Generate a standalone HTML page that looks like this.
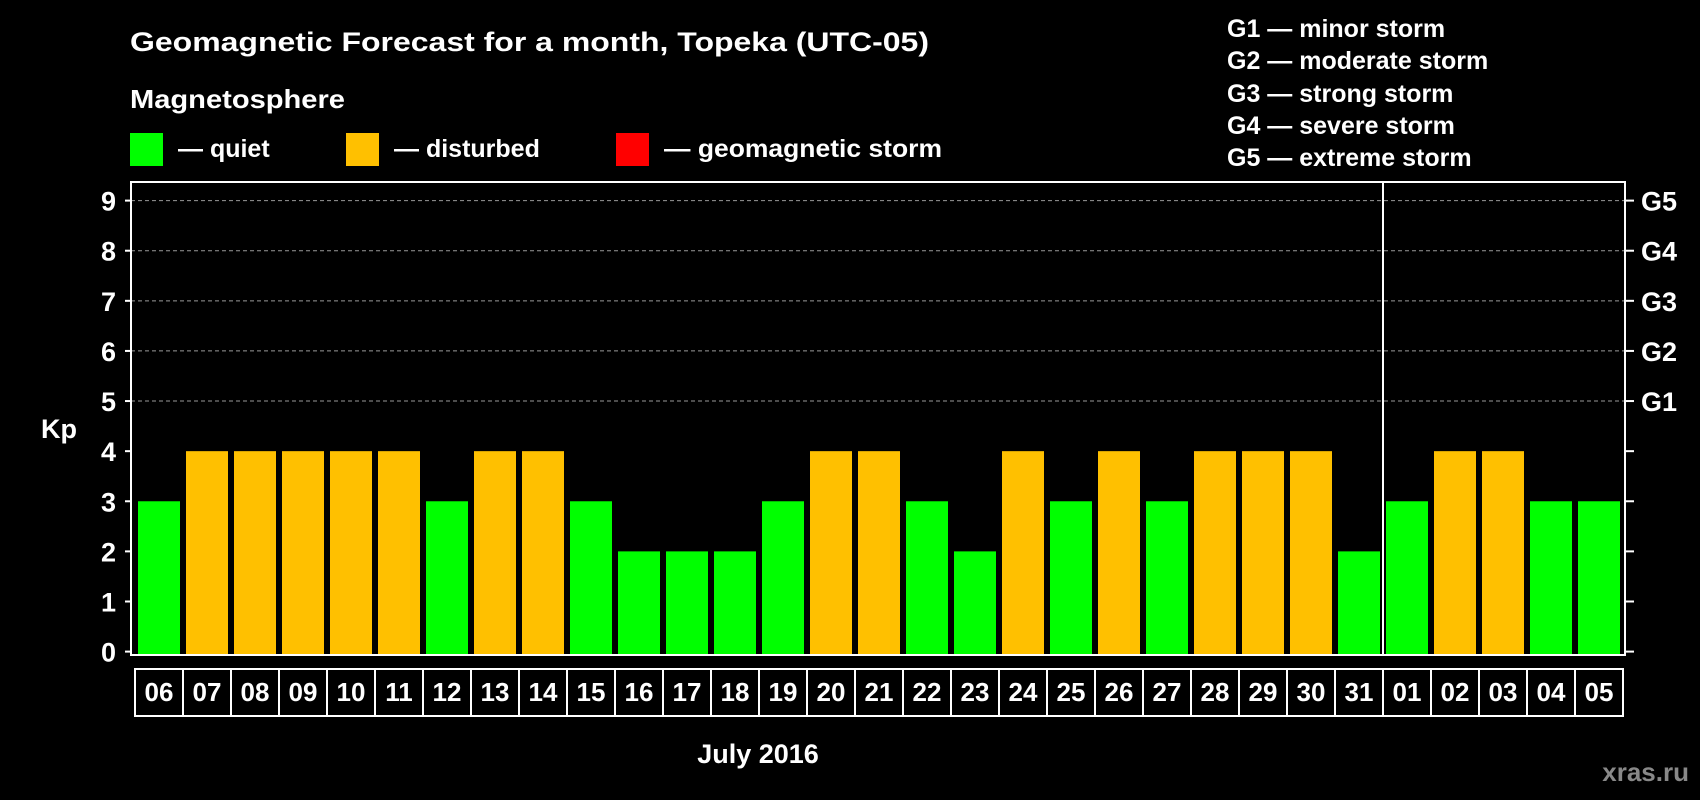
<!DOCTYPE html>
<html><head><meta charset="utf-8"><style>
html,body{margin:0;padding:0;background:#000;width:1700px;height:800px;overflow:hidden}
svg{display:block;font-family:"Liberation Sans",Arial,sans-serif;font-weight:bold}
</style></head><body>
<svg id="chart" width="1700" height="800" viewBox="0 0 1700 800" xmlns="http://www.w3.org/2000/svg">
<text x="130" y="51" fill="#fff" font-size="27" textLength="799" lengthAdjust="spacingAndGlyphs">Geomagnetic Forecast for a month, Topeka (UTC-05)</text>
<text x="130" y="108" fill="#fff" font-size="26" textLength="215" lengthAdjust="spacingAndGlyphs">Magnetosphere</text>
<g><rect x="130" y="133" width="33" height="33" fill="#00ff00"/><text x="178" y="157" fill="#fff" font-size="25">— quiet</text></g>
<g><rect x="346" y="133" width="33" height="33" fill="#ffc000"/><text x="394" y="157" fill="#fff" font-size="25">— disturbed</text></g>
<g><rect x="616" y="133" width="33" height="33" fill="#ff0000"/><text x="664" y="157" fill="#fff" font-size="25" textLength="278" lengthAdjust="spacingAndGlyphs">— geomagnetic storm</text></g>
<g fill="#fff" font-size="25">
<text x="1227" y="37">G1 — minor storm</text>
<text x="1227" y="69">G2 — moderate storm</text>
<text x="1227" y="102">G3 — strong storm</text>
<text x="1227" y="134">G4 — severe storm</text>
<text x="1227" y="166">G5 — extreme storm</text>
</g>
<text x="41" y="438" fill="#fff" font-size="27">Kp</text>
<text x="758" y="763" fill="#fff" font-size="27" text-anchor="middle">July 2016</text>
<text x="1689" y="781" fill="#888" font-size="26" text-anchor="end">xras.ru</text>
<g id="grid"></g><g id="bars"></g><g id="axes"></g>
</svg>
<script>
const days=["06","07","08","09","10","11","12","13","14","15","16","17","18","19","20","21","22","23","24","25","26","27","28","29","30","31","01","02","03","04","05"];
const kp=[3,4,4,4,4,4,3,4,4,3,2,2,2,3,4,4,3,2,4,3,4,3,4,4,4,2,3,4,4,3,3];
const yTicks=[0,1,2,3,4,5,6,7,8,9];
const gLabels=["G1","G2","G3","G4","G5"];
const gLevels=[5,6,7,8,9];
const monthBreak=26;
const NS="http://www.w3.org/2000/svg";
const L=131,R=1625,T=182,B=655;
const y=v=>651.6-v*(651.6-200.6)/9;
const x=i=>138+48*i;
function mk(t,a,p){const e=document.createElementNS(NS,t);for(const k in a)e.setAttribute(k,a[k]);p.appendChild(e);return e;}
const grid=document.getElementById('grid'),bars=document.getElementById('bars'),axes=document.getElementById('axes');
gLevels.forEach(v=>{const l=mk('line',{x1:L,x2:R,y1:y(v),y2:y(v),stroke:'#999','stroke-dasharray':'4,3','stroke-width':1},grid);

});
kp.forEach((v,i)=>{const c=v>=5?'#ff0000':(v>=4?'#ffc000':'#00ff00');
const r=mk('rect',{x:x(i),y:y(v),width:42,height:B-y(v),fill:c},bars);

});
const f=mk('rect',{x:L,y:T,width:R-L,height:B-T,fill:'none',stroke:'#fff','stroke-width':2},axes);


const sx=x(monthBreak)-3;
const sep=mk('line',{x1:sx,x2:sx,y1:T,y2:B,stroke:'#fff','stroke-width':2},axes);


yTicks.forEach(v=>{mk('line',{x1:125,x2:L,y1:y(v),y2:y(v),stroke:'#fff','stroke-width':2},axes);
mk('line',{x1:R,x2:1634,y1:y(v),y2:y(v),stroke:'#fff','stroke-width':2},axes);
const t=mk('text',{x:116,y:y(v)+10,fill:'#fff','font-size':27,'text-anchor':'end'},axes);t.textContent=v;

});
gLabels.forEach((g,i)=>{const t=mk('text',{x:1641,y:y(gLevels[i])+10,fill:'#fff','font-size':27},axes);t.textContent=g;

});
const bx=mk('rect',{x:x(0)-3,y:669,width:48*days.length,height:47,fill:'none',stroke:'#fff','stroke-width':2},axes);


days.forEach((d,i)=>{if(i>0)mk('line',{x1:x(i)-3,x2:x(i)-3,y1:669,y2:716,stroke:'#fff','stroke-width':2},axes);
const t=mk('text',{x:x(i)+21,y:701,fill:'#fff','font-size':26,'text-anchor':'middle'},axes);t.textContent=d;

});
</script>
</body></html>
